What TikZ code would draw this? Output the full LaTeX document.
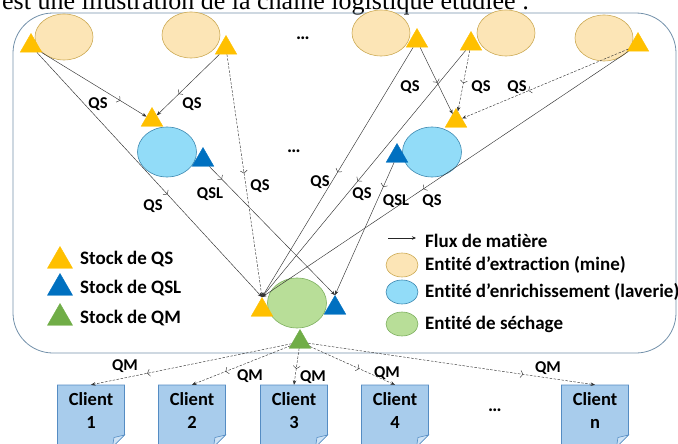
\documentclass[tikz,border=0pt]{standalone}
\usepackage{fontspec}
\setmainfont{Carlito}[Ligatures=NoCommon]
\newfontfamily\headfont{Liberation Serif}
\usetikzlibrary{arrows.meta,shapes.geometric,decorations.markings}

\definecolor{mineF}{RGB}{252,229,182}
\definecolor{mineD}{RGB}{204,170,84}
\definecolor{lavF}{RGB}{146,220,248}
\definecolor{lavD}{RGB}{60,135,175}
\definecolor{secF}{RGB}{184,222,152}
\definecolor{secD}{RGB}{125,175,95}
\definecolor{qsC}{RGB}{255,192,0}
\definecolor{qslC}{RGB}{0,112,192}
\definecolor{qmC}{RGB}{112,173,71}
\definecolor{cliF}{RGB}{168,204,236}
\definecolor{cliD}{RGB}{85,140,195}
\definecolor{frameC}{RGB}{115,145,170}

\begin{document}
\begin{tikzpicture}[x=1pt,y=-1pt,
  lab/.style={font=\bfseries\fontsize{16.5}{18}\selectfont,inner sep=0pt},
  leg/.style={font=\bfseries\fontsize{19}{22}\selectfont,anchor=west,inner sep=0pt},
  ent/.style={ellipse,draw,line width=0.6pt,minimum width=58pt,minimum height=46pt,inner sep=0pt},
  mine/.style={ent,fill=mineF,draw=mineD},
  lav/.style={ent,fill=lavF,draw=lavD,minimum width=59pt,minimum height=50pt},
  sech/.style={ent,fill=secF,draw=secD,minimum width=59pt,minimum height=50pt},
  tri/.style={regular polygon,regular polygon sides=3,minimum size=25pt,inner sep=0pt,draw=#1,fill=#1},
  flux/.style={draw=black!80,line width=0.45pt,-{Stealth[length=4.5pt,width=3.5pt]},
    postaction={decorate},decoration={markings,mark=at position #1 with {\arrow{Straight Barb[length=2.5pt,width=7pt]}}}},
  fluxd/.style={flux=#1,dash pattern=on 2.5pt off 1.5pt},
  client/.style={minimum width=67pt,minimum height=52pt,inner sep=0pt,align=center,
    font=\bfseries\fontsize{18.5}{23}\selectfont}]
  \path[use as bounding box] (0,0) rectangle (678,444);
  \clip (0,0) rectangle (678,444);
  % sentence cut at the top of the figure
  \node[anchor=base west,inner sep=0pt,font=\headfont\fontsize{26}{30}\selectfont] (head) at (2,10)
    {est une illustration de la chaîne logistique étudiée :};
  \draw[frameC,line width=0.8pt,rounded corners=40pt] (13,13) rectangle (676,353);

  % mines and their stocks
  \node[mine] (m1) at (64,37) {};
  \node[mine] (m2) at (191,35) {};
  \node[mine] (m3) at (381,33) {};
  \node[mine] (m4) at (506,33) {};
  \node[mine] (m5) at (604,38) {};
  \node[tri=qsC] (m1s) at (31,46) {};
  \node[tri=qsC] (m2s) at (226,48) {};
  \node[tri=qsC] (m3s) at (417,41) {};
  \node[tri=qsC] (m4s) at (471,44) {};
  \node[tri=qsC] (m5s) at (638,45) {};
  \node[font=\bfseries\fontsize{19}{22}\selectfont] (dots1) at (303,38) {…};

  % laveries
  \node[lav] (l1) at (167,152) {};
  \node[lav] (l2) at (432,152) {};
  \node[tri=qsC] (l1s) at (152,120) {};
  \node[tri=qslC] (l1q) at (203,160) {};
  \node[tri=qsC] (l2s) at (456,121) {};
  \node[tri=qslC] (l2q) at (397,156) {};
  \node[font=\bfseries\fontsize{19}{22}\selectfont] (dots2) at (294,151) {…};

  % sechage
  \node[sech] (s1) at (297,303) {};
  \node[tri=qsC] (s1s) at (262,310) {};
  \node[tri=qslC] (s1q) at (335,308) {};
  \node[tri=qmC] (s1m) at (300,342) {};

  % legend
  \node[tri=qsC,minimum size=29pt] (k1) at (60,261) {};
  \node[tri=qslC,minimum size=29pt] (k2) at (60,288) {};
  \node[tri=qmC,minimum size=29pt] (k3) at (60,318) {};
  \node[leg] (t1) at (80,259) {Stock de QS};
  \node[leg] (t2) at (80,288) {Stock de QSL};
  \node[leg] (t3) at (80,318) {Stock de QM};
  \coordinate (fl0) at (388,238);
  \coordinate (fl1) at (416,238);
  \draw[black!85,line width=0.5pt,-{Stealth[length=4pt,width=3.5pt]}] (fl0) -- (fl1);
  \node[ent,fill=mineF,draw=mineD,minimum width=32pt,minimum height=24pt] (e1) at (402,265) {};
  \node[ent,fill=lavF,draw=lavD,minimum width=32pt,minimum height=24pt] (e2) at (402,292) {};
  \node[ent,fill=secF,draw=secD,minimum width=32pt,minimum height=24pt] (e3) at (402,324) {};
  \node[leg] (t4) at (425,241) {Flux de matière};
  \node[leg] (t5) at (425,265) {Entité d’extraction (mine)};
  \node[leg] (t6) at (425,292) {Entité d’enrichissement (laverie)};
  \node[leg] (t7) at (425,324) {Entité de séchage};

  % flows towards the laveries and the sechage
  \draw[flux=0.75] (m1s) -- (l1s);
  \draw[flux=0.65] (m2s) -- (l1s);
  \draw[flux=0.58] (m1s) -- (s1s.corner 1);
  \draw[fluxd=0.49] (m2s) -- (s1s.corner 1);
  \draw[flux=0.1] (l1q) -- (s1q.corner 1);
  \draw[flux=0.53] (m3s) -- (l2s);
  \draw[fluxd=0.54] (m4s) -- (l2s);
  \draw[fluxd=0.6] (m5s) -- (l2s);
  \draw[flux=0.5] (m3s) -- (s1s.corner 1);
  \draw[flux=0.53] (m4s) -- (s1s.corner 1);
  \draw[flux=0.185] (l2q) -- (s1q.corner 1);
  \draw[flux=0.56] (m5s) -- (s1s.corner 1);
  \node[lab] (q1) at (98,104) {QS};
  \node[lab] (q2) at (192,104) {QS};
  \node[lab] (q3) at (153,206) {QS};
  \node[lab] (q4) at (260,186) {QS};
  \node[lab] (q5) at (210,194) {QSL};
  \node[lab] (q6) at (410,87) {QS};
  \node[lab] (q7) at (481,87) {QS};
  \node[lab] (q8) at (517,87) {QS};
  \node[lab] (q9) at (320,182) {QS};
  \node[lab] (q10) at (362,194) {QS};
  \node[lab] (q11) at (396,201) {QSL};
  \node[lab] (q12) at (432,201) {QS};

  % clients
  \foreach \n/\x in {1/91,2/192,3/294,4/395,n/595}{
    \filldraw[fill=cliF,draw=cliD,line width=0.6pt]
      ({\x-33.5},385) -- ({\x+33.5},385) -- ({\x+33.5},435) -- ({\x+21.5},447) -- ({\x-33.5},447) -- cycle;
    \filldraw[fill=cliF!55!white,draw=cliD,line width=0.6pt]
      ({\x+33.5},435) -- ({\x+23},437.5) -- ({\x+21.5},447) -- cycle;
    \node[client] (c\n) at (\x,411) {Client\\\n};
  }
  \node[font=\bfseries\fontsize{19}{22}\selectfont] (dots3) at (495,410) {…};

  \draw[fluxd=0.72] (s1m) -- (c1.north);
  \draw[fluxd=0.66] (s1m) -- (c2.north);
  \draw[fluxd=0.56] (s1m) -- (c3.north);
  \draw[fluxd=0.58] (s1m) -- (c4.north);
  \draw[fluxd=0.75] (s1m) -- (cn.north);
  \node[lab] (r1) at (125,366) {QM};
  \node[lab] (r2) at (250,376) {QM};
  \node[lab] (r3) at (313,377) {QM};
  \node[lab] (r4) at (387,373) {QM};
  \node[lab] (r5) at (548,368) {QM};
\end{tikzpicture}
\end{document}
